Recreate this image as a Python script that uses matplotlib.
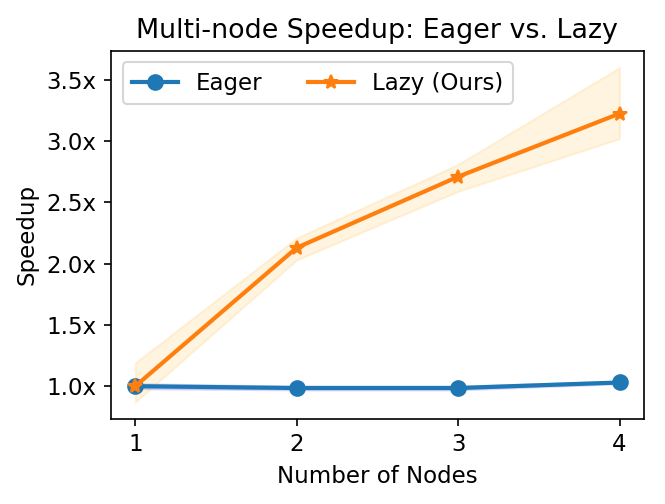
import matplotlib
matplotlib.use("Agg")
import matplotlib.pyplot as plt
from matplotlib.ticker import FuncFormatter

nodes = [1, 2, 3, 4]
eager = [1.0, 0.985, 0.985, 1.03]
eager_lo = [0.98, 0.97, 0.97, 1.02]
eager_hi = [1.02, 1.0, 1.0, 1.04]
lazy = [1.0, 2.13, 2.71, 3.225]
lazy_lo = [0.87, 2.03, 2.59, 3.02]
lazy_hi = [1.19, 2.21, 2.81, 3.60]

fig, ax = plt.subplots(figsize=(665 / 150, 504 / 150), dpi=150)
fig.subplots_adjust(left=0.167, right=0.968, top=0.899, bottom=0.169)

ax.plot(nodes, eager, marker="o", color="C0", lw=2, ms=7, label="Eager", zorder=3)
ax.fill_between(nodes, eager_lo, eager_hi, color="blue", alpha=0.15)
ax.plot(nodes, lazy, marker="*", color="C1", lw=2, ms=7, label="Lazy (Ours)", zorder=3)
ax.fill_between(nodes, lazy_lo, lazy_hi, color="orange", alpha=0.12)

ax.set_xticks(nodes)
ax.yaxis.set_major_formatter(FuncFormatter(lambda v, _: f"{v:.1f}x"))
ax.tick_params(labelsize=11)
ax.set_xlabel("Number of Nodes", fontsize=11)
ax.set_ylabel("Speedup", fontsize=11)
ax.set_title("Multi-node Speedup: Eager vs. Lazy", fontsize=12.9)
ax.legend(loc="upper left", ncol=2, fontsize=11)

fig.savefig("out.png", dpi=150)
